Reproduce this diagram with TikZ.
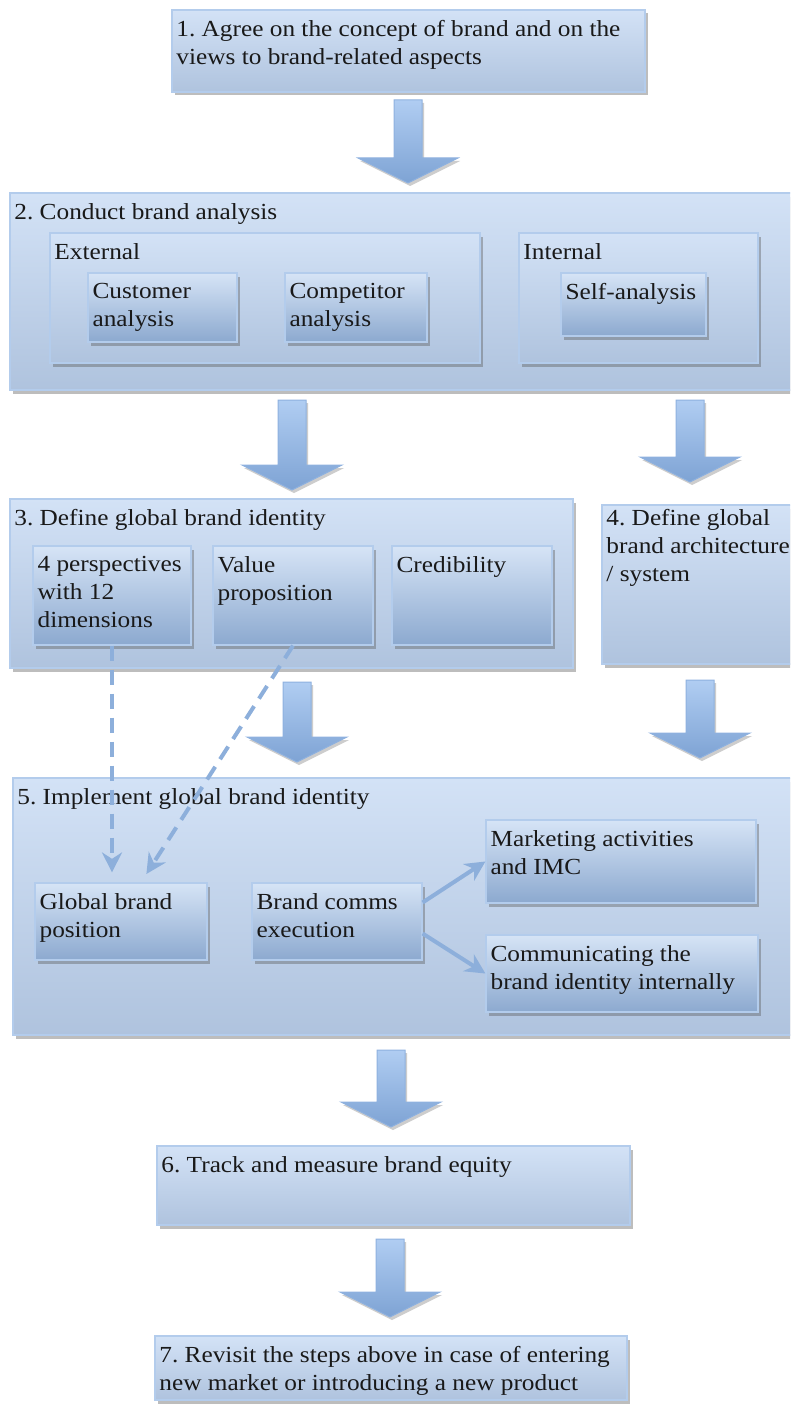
\documentclass[tikz,border=0pt]{standalone}
\usepackage{fontspec}
\setmainfont{Liberation Serif}[FakeStretch=1.1]
\usepackage{tikz}
\usetikzlibrary{positioning,arrows.meta,calc,fit,shadows}

\definecolor{edgeblue}{HTML}{B3CCEC}
\definecolor{outertop}{HTML}{D3E2F6}
\definecolor{outerbot}{HTML}{AFC3DE}
\definecolor{innertop}{HTML}{D6E4F6}
\definecolor{innerbot}{HTML}{8CA9CF}
\definecolor{arrowtop}{HTML}{B0CDF2}
\definecolor{arrowbot}{HTML}{7EA3D4}
\definecolor{arrowedge}{HTML}{8EB1DF}
\definecolor{lineblue}{HTML}{8DAFDB}

\newcommand{\boxfont}{\fontsize{23}{28}\selectfont\frenchspacing}

\begin{document}
\begin{tikzpicture}[
  x=1pt, y=-1pt,
  outer/.style={draw=edgeblue, line width=1.5pt, top color=outertop,
                bottom color=outerbot, inner sep=0pt,
                drop shadow={shadow xshift=2.5pt, shadow yshift=-3.5pt,
                             opacity=0.4, fill=black!65}},
  inner/.style={draw=edgeblue, line width=1.2pt, top color=innertop,
                bottom color=innerbot, inner sep=0pt,
                drop shadow={shadow xshift=2.5pt, shadow yshift=-3.5pt,
                             opacity=0.4, fill=black!65}},
  txt/.style={anchor=north west, align=left, inner xsep=5pt,
              inner ysep=11pt, font=\boxfont, text=black!90},
  blockarr/.style={draw=arrowedge, line width=1pt, top color=arrowtop,
                   bottom color=arrowbot,
                   drop shadow={shadow xshift=2pt, shadow yshift=-3pt,
                                opacity=0.3, fill=black!65},
    to path={let \p1=(\tikztostart), \p2=(\tikztotarget) in
      (\x1-14pt,\y1) -- (\x1-14pt,\y2+25pt) -- (\x1-50pt,\y2+25pt)
      -- (\x2,\y2) -- (\x1+50pt,\y2+25pt) -- (\x1+14pt,\y2+25pt)
      -- (\x1+14pt,\y1) -- cycle}},
  dasharr/.style={draw=lineblue, line width=4pt, dash pattern=on 15pt off 9pt,
                  -{Stealth[length=20pt,width=20pt]}},
  ar/.style={draw=lineblue, line width=4pt,
             -{Stealth[length=20pt,width=20pt]}},
]
  \useasboundingbox (0,0) rectangle (790,1407);
  \clip (0,0) rectangle (790,1407);

  %% Step 1
  \node[outer, fit={(172,10) (645,92)}] (b1) {};
  \node[txt] (t1) at (b1.north west)
    {1. Agree on the concept of brand and on the\\views to brand-related aspects};

  %% Step 2: brand analysis
  \node[outer, fit={(10,193) (800,390)}] (b2) {};
  \node[txt] (t2) at (b2.north west) {2. Conduct brand analysis};
  \node[outer, fit={(50,233) (480,363)}] (ext) {};
  \node[txt] (text) at (ext.north west) {External};
  \node[inner, fit={(88,273) (237,342)}] (cust) {};
  \node[txt] (tcust) at (cust.north west) {Customer\\analysis};
  \node[inner, fit={(285,273) (427,342)}] (comp) {};
  \node[txt] (tcomp) at (comp.north west) {Competitor\\analysis};
  \node[outer, fit={(519,233) (758,363)}] (int) {};
  \node[txt] (tint) at (int.north west) {Internal};
  \node[inner, fit={(561,273) (706,336)}] (self) {};
  \node[txt] (tself) at (self.north west) {Self-analysis};

  %% Step 3: identity
  \node[outer, fit={(10,499) (573,668)}] (b3) {};
  \node[txt] (t3) at (b3.north west) {3. Define global brand identity};
  \node[inner, fit={(33,546) (191,645)}] (persp) {};
  \node[txt] (tpersp) at (persp.north west) {4 perspectives\\with 12\\dimensions};
  \node[inner, fit={(213,546) (373,645)}] (val) {};
  \node[txt] (tval) at (val.north west) {Value\\proposition};
  \node[inner, fit={(392,546) (552,645)}] (cred) {};
  \node[txt] (tcred) at (cred.north west) {Credibility};

  %% Step 4: architecture
  \node[outer, fit={(602,505) (800,664)}] (b4) {};
  \node[txt, inner ysep=5pt] (t4) at (b4.north west)
    {4. Define global\\brand architecture\\/ system};

  %% Step 5: implementation
  \node[outer, fit={(13,778) (800,1035)}] (b5) {};
  \node[txt] (t5) at (b5.north west) {5. Implement global brand identity};
  \node[inner, fit={(35,883) (207,960)}] (gbp) {};
  \node[txt] (tgbp) at (gbp.north west) {Global brand\\position};
  \node[inner, fit={(252,883) (422,960)}] (bce) {};
  \node[txt] (tbce) at (bce.north west) {Brand comms\\execution};
  \node[inner, fit={(486,820) (756,903)}] (mkt) {};
  \node[txt] (tmkt) at (mkt.north west) {Marketing activities\\and IMC};
  \node[inner, fit={(486,935) (758,1012)}] (comm) {};
  \node[txt] (tcomm) at (comm.north west)
    {Communicating the\\brand identity internally};

  %% Step 6 and 7
  \node[outer, fit={(157,1146) (630,1225)}] (b6) {};
  \node[txt] (t6) at (b6.north west) {6. Track and measure brand equity};
  \node[outer, fit={(155,1336) (627,1400)}] (b7) {};
  \node[txt] (t7) at (b7.north west)
    {7. Revisit the steps above in case of entering\\new market or introducing a new product};

  %% Block arrows between the steps
  \coordinate (a1s) at (408,100);  \coordinate (a1e) at (408,183);
  \coordinate (a2s) at (292,400);  \coordinate (a2e) at (292,490);
  \coordinate (a3s) at (690,400);  \coordinate (a3e) at (690,482);
  \coordinate (a4s) at (297,682);  \coordinate (a4e) at (297,762);
  \coordinate (a5s) at (700,680);  \coordinate (a5e) at (700,758);
  \coordinate (a6s) at (391,1050); \coordinate (a6e) at (391,1127);
  \coordinate (a7s) at (390,1239); \coordinate (a7e) at (390,1317);
  \foreach \a/\b in {a1s/a1e, a2s/a2e, a3s/a3e, a4s/a4e,
                     a5s/a5e, a6s/a6e, a7s/a7e}
    \path[blockarr] (\a) to (\b);

  %% Dashed links into the brand position
  \draw[dasharr, shorten >=10pt] (persp.south) -- (persp.south |- gbp.north);
  \draw[dasharr, shorten >=10pt] (val.south) -- ($(gbp.north)+(20,0)$);

  %% Comms execution fans out
  \draw[ar] ([yshift=19pt]bce.east) -- (mkt.west);
  \draw[ar] ([yshift=-12pt]bce.east) -- (comm.west);
\end{tikzpicture}
\end{document}
